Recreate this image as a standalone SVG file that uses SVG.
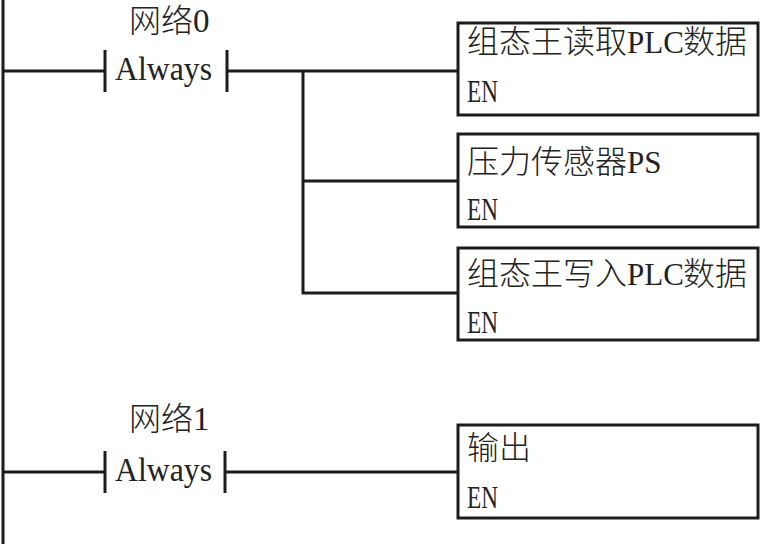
<svg xmlns="http://www.w3.org/2000/svg" width="760" height="544" viewBox="0 0 760 544">
<style>
.w{stroke:#1c1c1c;stroke-width:3;fill:none}
.box{stroke:#1c1c1c;stroke-width:3;fill:#fff}
.cjk{font-family:"Noto Sans CJK SC","Noto Sans",sans-serif;font-size:32px;font-weight:300;fill:#222}
.lat{font-family:"Liberation Serif",serif;font-size:33px;font-weight:400;fill:#222}
.pl{font-family:"Liberation Serif",serif;font-size:31px;font-weight:400}
.dg{font-family:"Liberation Serif",serif;font-size:33px;font-weight:400}
.en{font-family:"Liberation Serif",serif;font-size:31px;fill:#222}
</style>
<rect width="760" height="544" fill="#fff"/>
<g id="connectors">
<line class="w" x1="3" y1="0" x2="3" y2="544"/>
<line class="w" x1="3" y1="71" x2="105" y2="71"/>
<line class="w" x1="227" y1="71" x2="458" y2="71"/>
<polyline class="w" points="303,71 303,293 458,293"/>
<line class="w" x1="303" y1="181" x2="458" y2="181"/>
<line class="w" x1="3" y1="472" x2="105" y2="472"/>
<line class="w" x1="225" y1="472" x2="458" y2="472"/>
</g>
<g id="contact0">
<line class="w" x1="105" y1="50" x2="105" y2="92"/>
<line class="w" x1="227" y1="50" x2="227" y2="92"/>
<text class="cjk" x="129" y="32">网络<tspan class="dg">0</tspan></text>
<text class="lat" x="115" y="80" textLength="97" lengthAdjust="spacingAndGlyphs">Always</text>
</g>
<g id="contact1">
<line class="w" x1="105" y1="451" x2="105" y2="493"/>
<line class="w" x1="225" y1="451" x2="225" y2="493"/>
<text class="cjk" x="129" y="430">网络<tspan class="dg">1</tspan></text>
<text class="lat" x="115" y="481" textLength="97" lengthAdjust="spacingAndGlyphs">Always</text>
</g>
<g id="box1">
<rect class="box" x="458" y="23" width="300" height="92"/>
<text class="cjk" x="467" y="53">组态王读取<tspan class="pl" x="627">PLC</tspan><tspan x="683">数据</tspan></text>
<text class="en" x="467" y="102" textLength="31" lengthAdjust="spacingAndGlyphs">EN</text>
</g>
<g id="box2">
<rect class="box" x="458" y="134" width="300" height="93"/>
<text class="cjk" x="467" y="173">压力传感器<tspan class="pl" x="627">PS</tspan></text>
<text class="en" x="467" y="220" textLength="31" lengthAdjust="spacingAndGlyphs">EN</text>
</g>
<g id="box3">
<rect class="box" x="458" y="248" width="300" height="92"/>
<text class="cjk" x="467" y="285">组态王写入<tspan class="pl" x="627">PLC</tspan><tspan x="683">数据</tspan></text>
<text class="en" x="467" y="333" textLength="31" lengthAdjust="spacingAndGlyphs">EN</text>
</g>
<g id="box4">
<rect class="box" x="458" y="425" width="300" height="93"/>
<text class="cjk" x="467" y="459">输出</text>
<text class="en" x="467" y="508" textLength="31" lengthAdjust="spacingAndGlyphs">EN</text>
</g>
</svg>
